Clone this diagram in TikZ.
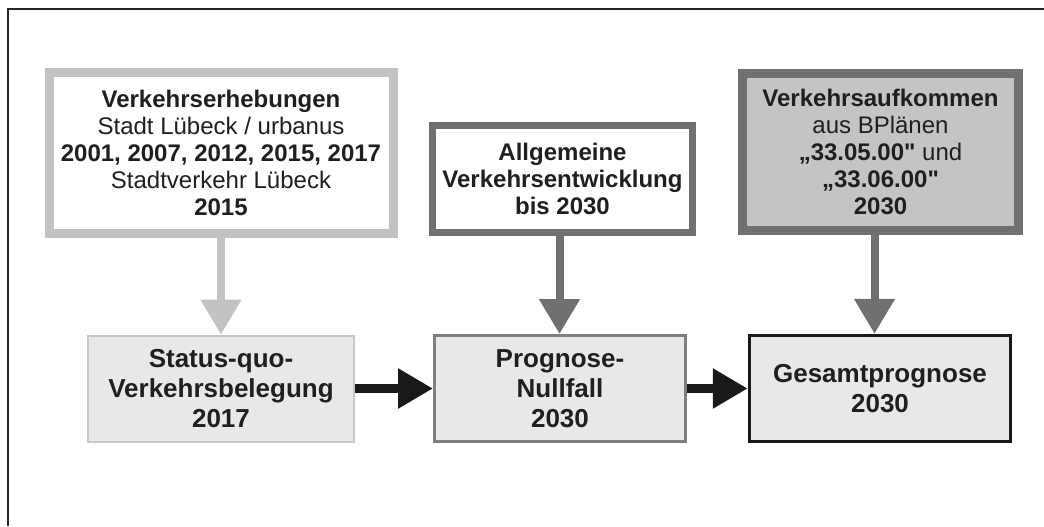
\documentclass[tikz,border=0pt]{standalone}
\usepackage{fontspec}
\setmainfont{Liberation Sans}[Ligatures=TeXOff]
\usetikzlibrary{arrows.meta}
\definecolor{pale}{gray}{0.76}
\definecolor{mid}{gray}{0.44}
\definecolor{dark}{gray}{0.10}
\definecolor{fillpale}{gray}{0.91}
\definecolor{fillmid}{gray}{0.77}
\begin{document}
\begin{tikzpicture}[x=0.5pt, y=-0.5pt,
  every node/.style={align=center, inner sep=0pt, text=black!88},
  inbox/.style={draw, font=\fontsize{12}{13.5}\selectfont},
  outbox/.style={draw, fill=fillpale, minimum height=53pt, font=\bfseries\fontsize{13}{15}\selectfont},
  down/.style={line width=4pt, -{Triangle[length=17.5pt, width=19.5pt]}},
  ahead/.style={line width=4.5pt, dark, -{Triangle[length=17.5pt, width=19pt]}}]
\useasboundingbox (0,0) rectangle (1044,526);
\draw[line width=1pt, black!85] (8,526) -- (8,9) -- (1044,9);
\node[inbox, draw=pale, line width=4.5pt, fill=white, minimum width=172pt, minimum height=80.5pt] (erh) at (221,153)
  {{\bfseries Verkehrserhebungen}\\ Stadt Lübeck / urbanus\\ {\bfseries 2001, 2007, 2012, 2015, 2017}\\ Stadtverkehr Lübeck\\ {\bfseries 2015}};
\node[inbox, draw=mid, line width=3.5pt, fill=white, minimum width=130pt, minimum height=53.5pt] (allg) at (562.5,179)
  {\bfseries Allgemeine\\ \bfseries Verkehrsentwicklung\\ \bfseries bis 2030};
\node[inbox, draw=mid, line width=4.5pt, fill=fillmid, minimum width=138pt, minimum height=78.5pt] (aufk) at (880.5,152)
  {{\bfseries Verkehrsaufkommen}\\ aus BPlänen\\ {\bfseries „33.05.00"} und\\ {\bfseries „33.06.00"}\\ {\bfseries 2030}};
\node[outbox, draw=black!22, line width=1pt, minimum width=133pt] (quo) at (221,388.5)
  {Status-quo-\\ Verkehrsbelegung\\ 2017};
\node[outbox, draw=gray, line width=1.5pt, minimum width=125.5pt] (null) at (560,388.5)
  {Prognose-\\ Nullfall\\ 2030};
\node[outbox, draw=dark, line width=1.75pt, minimum width=130.5pt] (ges) at (880,388.5)
  {Gesamtprognose\\ 2030};
\draw[down, pale] (erh.south) -- (erh.south |- quo.north);
\draw[down, mid] ([xshift=-1.5pt]allg.south) -- ([xshift=-1.5pt]allg.south |- null.north);
\draw[down, mid] ([xshift=-3pt]aufk.south) -- ([xshift=-3pt]aufk.south |- ges.north);
\draw[ahead] (quo) -- (null);
\draw[ahead] (null) -- (ges);
\end{tikzpicture}
\end{document}
